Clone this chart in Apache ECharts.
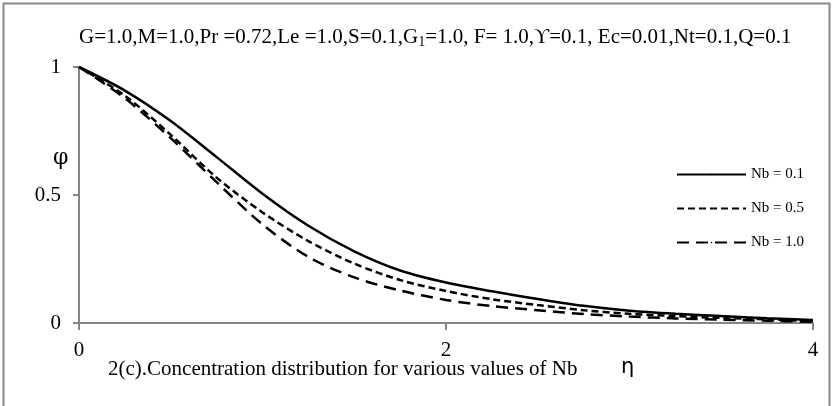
<!DOCTYPE html>
<html>
<head>
<meta charset="utf-8">
<script src="https://cdn.jsdelivr.net/npm/echarts@6/dist/echarts.min.js"></script>
<style>
    html, body { margin: 0; padding: 0; background: #fff; }
    #main { width: 833px; height: 406px; }
</style>
</head>
<body>
<div id="main"></div>
<script>
    // eta values (x axis)
    var eta = [0, 0.25, 0.5, 0.75, 1.0, 1.25, 1.5, 1.75, 2.0, 2.25, 2.5, 2.75, 3.0, 3.25, 3.5, 3.75, 4.0];
    // concentration phi for each Nb
    var nb01 = [1.0, 0.908, 0.789, 0.648, 0.505, 0.38, 0.28, 0.205, 0.158, 0.124, 0.094, 0.067, 0.048, 0.036, 0.027, 0.019, 0.012];
    var nb05 = [1.0, 0.888, 0.735, 0.568, 0.432, 0.32, 0.232, 0.168, 0.125, 0.093, 0.07, 0.05, 0.036, 0.027, 0.02, 0.014, 0.008];
    var nb10 = [1.0, 0.878, 0.722, 0.55, 0.385, 0.258, 0.178, 0.127, 0.09, 0.066, 0.05, 0.035, 0.025, 0.018, 0.013, 0.009, 0.005];
    var seriesNames = ['Nb = 0.1', 'Nb = 0.5', 'Nb = 1.0'];
    var xTicks = [0, 2, 4];
    var yTicks = [0, 0.5, 1];

    function pairs(ys) {
        var out = [];
        for (var i = 0; i < eta.length; i++) {
            out.push([eta[i], ys[i]]);
        }
        return out;
    }

    var serif = '"Liberation Serif", "Times New Roman", serif';
    var mychart = echarts.init(document.getElementById('main'));
    var option = {
        backgroundColor: '#fff',
        animation: false,
        textStyle: { fontFamily: serif, color: '#000' },
        grid: {
            left: 79,
            right: 20,
            top: 67,
            bottom: 83
        },
        legend: {
            orient: 'vertical',
            left: 676,
            top: 167,
            padding: 0,
            itemWidth: 69,
            itemHeight: 2,
            itemGap: 19,
            textStyle: { fontFamily: serif, fontSize: 15, color: '#000' },
            data: seriesNames
        },
        xAxis: {
            type: 'value',
            min: 0,
            max: 4,
            interval: 2,
            axisLine: { show: true, lineStyle: { color: '#868686', width: 2 } },
            axisTick: { show: true, inside: false, length: 7, lineStyle: { color: '#868686', width: 2 } },
            axisLabel: {
                margin: 17,
                fontSize: 21,
                fontFamily: serif,
                color: '#000',
                formatter: function (v) { return xTicks.indexOf(v) >= 0 ? String(v) : ''; }
            },
            splitLine: { show: false }
        },
        yAxis: {
            type: 'value',
            min: 0,
            max: 1,
            interval: 0.5,
            axisLine: { show: true, lineStyle: { color: '#868686', width: 2 } },
            axisTick: { show: true, inside: false, length: 6, lineStyle: { color: '#868686', width: 2 } },
            axisLabel: {
                margin: 18,
                fontSize: 21,
                fontFamily: serif,
                color: '#000',
                formatter: function (v) { return yTicks.indexOf(v) >= 0 ? String(v) : ''; }
            },
            splitLine: { show: false }
        },
        graphic: [
            {
                type: 'rect',
                silent: true,
                shape: { x: 3.5, y: 3.5, width: 826, height: 420 },
                style: { fill: 'none', stroke: '#8a8a8a', lineWidth: 2 }
            },
            {
                type: 'text',
                left: 79,
                top: 27,
                style: {
                    text: '{t|G=1.0,M=1.0,Pr =0.72,Le =1.0,S=0.1,G}{s|1}{t|=1.0, F= 1.0,ϒ=0.1, Ec=0.01,Nt=0.1,Q=0.1}',
                    rich: {
                        t: { fontFamily: serif, fontSize: 21, fill: '#000' },
                        s: { fontFamily: serif, fontSize: 14, fill: '#000', padding: [9, 0, 0, 0] }
                    }
                }
            },
            {
                type: 'text',
                left: 53,
                top: 147,
                style: { text: 'φ', fontFamily: '"DejaVu Serif", serif', fontSize: 22, fill: '#000' }
            },
            {
                type: 'text',
                left: 621,
                top: 357,
                style: { text: 'η', fontFamily: '"DejaVu Sans", sans-serif', fontSize: 21, fill: '#000' }
            },
            {
                type: 'text',
                left: 108,
                top: 359,
                style: {
                    text: '2(c).Concentration distribution for various values of Nb',
                    fontFamily: serif, fontSize: 21, fill: '#000'
                }
            }
        ],
        series: [
            {
                name: seriesNames[0],
                type: 'line',
                symbol: 'none',
                smooth: 0.3,
                lineStyle: { color: '#000', width: 2.5, type: 'solid' },
                itemStyle: { color: '#000' },
                data: pairs(nb01)
            },
            {
                name: seriesNames[1],
                type: 'line',
                symbol: 'none',
                smooth: 0.3,
                lineStyle: { color: '#000', width: 2.5, type: [7, 4] },
                itemStyle: { color: '#000' },
                data: pairs(nb05)
            },
            {
                name: seriesNames[2],
                type: 'line',
                symbol: 'none',
                smooth: 0.3,
                lineStyle: { color: '#000', width: 2.5, type: [12, 7] },
                itemStyle: { color: '#000' },
                data: pairs(nb10)
            }
        ]
    };
    mychart.setOption(option);
</script>
</body>
</html>
